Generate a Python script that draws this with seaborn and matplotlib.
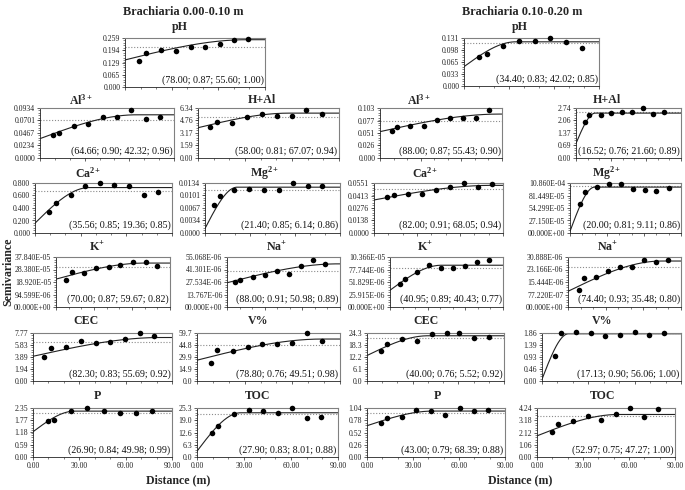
import numpy as np
import pandas as pd
import matplotlib
matplotlib.use("Agg")
import matplotlib.pyplot as plt
from matplotlib.ticker import FixedLocator, MultipleLocator
import seaborn as sns

# ---------------- data ----------------
# Brachiaria 0.00-0.10 m
ph_a_lag = [9.2, 13.3, 22.9, 32.6, 42.2, 51.6, 60.9, 70.1, 79.3]
ph_a_gam = [0.139, 0.182, 0.196, 0.188, 0.213, 0.214, 0.229, 0.248, 0.254]
al_a_lag = [8.5, 13.0, 22.8, 32.5, 42.3, 51.7, 61.1, 71.0, 80.6]
al_a_gam = [0.0426, 0.0470, 0.0597, 0.0629, 0.0769, 0.0769, 0.0902, 0.0737, 0.0775]
hal_a_lag = [7.9, 11.9, 21.7, 31.3, 40.9, 50.4, 59.8, 69.1, 78.9]
hal_a_gam = [3.97, 4.61, 4.49, 5.22, 5.52, 5.35, 5.35, 6.08, 5.52]
ca_a_lag = [9.4, 13.6, 23.5, 33.1, 42.8, 52.2, 61.7, 71.6, 81.0]
ca_a_gam = [0.336, 0.481, 0.615, 0.744, 0.800, 0.772, 0.755, 0.615, 0.655]
mg_a_lag = [5.8, 9.8, 19.6, 29.4, 39.2, 49.0, 58.6, 68.4, 78.2]
mg_a_gam = [0.00759, 0.01003, 0.01153, 0.01171, 0.01153, 0.01143, 0.0134, 0.01256, 0.01256]
k_a_lag = [7.7, 12.4, 22.2, 31.8, 41.6, 50.8, 60.6, 70.7, 79.9]
k_a_gam = [20.64e-5, 26.37e-5, 25.91e-5, 29.35e-5, 30.27e-5, 31.42e-5, 34.17e-5, 34.40e-5, 30.96e-5]
na_a_lag = [6.4, 10.6, 20.6, 29.9, 39.7, 49.2, 59.0, 68.3, 78.1]
na_a_gam = [27.70e-6, 29.37e-6, 33.37e-6, 35.71e-6, 40.05e-6, 36.71e-6, 45.06e-6, 51.5e-6, 47.5e-6]
cec_a_lag = [7.2, 11.5, 21.3, 31.0, 40.8, 49.9, 59.7, 69.0, 78.5]
cec_a_gam = [3.83, 5.35, 5.52, 6.53, 6.19, 6.36, 6.76, 7.75, 7.21]
v_a_lag = [8.8, 12.6, 22.4, 31.8, 41.2, 50.6, 59.8, 69.2, 78.7]
v_a_gam = [22.8, 38.2, 36.9, 42.1, 46.5, 46.5, 47.0, 59.7, 49.2]
p_a_lag = [9.6, 13.8, 24.4, 35.2, 45.9, 56.3, 66.5, 77.3]
p_a_gam = [1.746, 1.779, 2.203, 2.34, 2.219, 2.105, 2.122, 2.187]
toc_a_lag = [9.8, 13.6, 23.6, 33.1, 42.3, 51.5, 60.7, 70.1, 79.1]
toc_a_gam = [12.65, 16.16, 21.96, 24.07, 23.89, 22.84, 25.3, 20.03, 20.56]

# Brachiaria 0.10-0.20 m
ph_b_lag = [10.2, 15.1, 25.7, 36.6, 47.0, 57.6, 68.3, 78.7]
ph_b_gam = [0.0782, 0.0877, 0.1103, 0.1216, 0.1216, 0.1300, 0.1188, 0.1046]
al_b_lag = [8.5, 12.5, 22.4, 32.3, 42.0, 51.7, 61.2, 70.9, 80.6]
al_b_gam = [0.0564, 0.0633, 0.0654, 0.0661, 0.0773, 0.0828, 0.0828, 0.0828, 0.0995]
hal_b_lag = [7.5, 11.4, 21.0, 30.0, 39.0, 48.2, 57.4, 66.4, 75.6]
hal_b_gam = [1.96, 2.33, 2.35, 2.44, 2.52, 2.50, 2.72, 2.43, 2.52]
ca_b_lag = [9.3, 13.7, 23.5, 33.5, 43.5, 53.3, 62.8, 72.6, 82.6]
ca_b_gam = [0.0394, 0.0416, 0.0431, 0.0431, 0.0469, 0.0510, 0.0551, 0.0510, 0.0543]
mg_b_lag = [8.1, 12.1, 22.0, 31.7, 41.7, 51.0, 60.5, 69.9, 80.1]
mg_b_gam = [6.28e-4, 8.87e-4, 9.90e-4, 10.64e-4, 10.64e-4, 9.53e-4, 9.31e-4, 9.16e-4, 9.75e-4]
k_b_lag = [7.9, 12.2, 21.7, 31.2, 41.0, 50.3, 59.5, 69.3, 78.6]
k_b_gam = [4.73e-5, 5.77e-5, 7.33e-5, 8.72e-5, 7.99e-5, 7.99e-5, 8.59e-5, 9.39e-5, 9.70e-5]
na_b_lag = [9.0, 12.5, 22.5, 32.0, 41.5, 51.0, 60.5, 70.0, 79.5]
na_b_gam = [10.38e-6, 17.66e-6, 18.72e-6, 22.29e-6, 24.47e-6, 24.93e-6, 28.90e-6, 27.98e-6, 28.90e-6]
cec_b_lag = [9.2, 13.3, 22.9, 32.7, 42.5, 52.3, 60.6, 70.6, 80.2]
cec_b_gam = [15.4, 18.6, 21.3, 20.0, 23.9, 24.2, 24.4, 21.6, 22.2]
v_b_lag = [8.6, 12.4, 22.1, 31.7, 41.1, 50.3, 60.0, 69.6, 79.2]
v_b_gam = [0.98, 1.86, 1.89, 1.87, 1.75, 1.77, 1.91, 1.77, 1.85]
p_b_lag = [9.0, 12.9, 22.5, 32.1, 41.8, 51.0, 60.4, 69.8, 79.2]
p_b_gam = [0.722, 0.823, 0.845, 1.004, 0.968, 0.896, 1.040, 0.982, 1.004]
toc_b_lag = [10.0, 14.0, 23.5, 33.0, 42.0, 51.5, 60.5, 70.0, 79.0]
toc_b_gam = [2.18, 2.83, 3.09, 3.56, 3.24, 3.68, 4.24, 3.42, 4.18]

# fitted spherical models: range a, nugget, sill, sample variance (dotted)
model_range = {
    "ph_a": 78.00, "al_a": 64.66, "hal_a": 58.00, "ca_a": 35.56, "mg_a": 21.40, "k_a": 70.00,
    "na_a": 88.00, "cec_a": 82.30, "v_a": 78.80, "p_a": 26.90, "toc_a": 27.90,
    "ph_b": 34.40, "al_b": 88.00, "hal_b": 16.52, "ca_b": 82.00, "mg_b": 20.00, "k_b": 40.95,
    "na_b": 74.40, "cec_b": 40.00, "v_b": 17.13, "p_b": 43.00, "toc_b": 52.97,
}
model_nugget = {
    "ph_a": 0.143, "al_a": 0.0362, "hal_a": 3.84, "ca_a": 0.157, "mg_a": 0.0012, "k_a": 21.1e-5,
    "na_a": 26.7e-6, "cec_a": 4.00, "v_a": 25.9, "p_a": 1.21, "toc_a": 3.0,
    "ph_b": 0.0528, "al_b": 0.0543, "hal_b": 0.80, "ca_b": 0.0364, "mg_b": 0.37e-4, "k_b": 3.48e-5,
    "na_b": 9.7e-6, "cec_b": 12.9, "v_b": 0.07, "p_b": 0.664, "toc_b": 1.83,
}
model_sill = {
    "ph_a": 0.250, "al_a": 0.0807, "hal_a": 5.69, "ca_a": 0.727, "mg_a": 0.01228, "k_a": 33.25e-5,
    "na_a": 47.5e-6, "cec_a": 7.04, "v_a": 52.2, "p_a": 2.20, "toc_a": 22.84,
    "ph_b": 0.1206, "al_b": 0.0905, "hal_b": 2.46, "ca_b": 0.0525, "mg_b": 9.97e-4, "k_b": 8.66e-5,
    "na_b": 28.4e-6, "cec_b": 22.9, "v_b": 1.83, "p_b": 0.975, "toc_b": 3.68,
}
sample_var = {
    "ph_a": 0.211, "al_a": 0.0705, "hal_a": 5.18, "ca_a": 0.677, "mg_a": 0.01153, "k_a": 30.5e-5,
    "na_a": 40.0e-6, "cec_a": 6.36, "v_a": 44.3, "p_a": 2.105, "toc_a": 22.1,
    "ph_b": 0.118, "al_b": 0.0752, "hal_b": 2.52, "ca_b": 0.0484, "mg_b": 10.1e-4, "k_b": 8.15e-5,
    "na_b": 25.0e-6, "cec_b": 21.8, "v_b": 1.86, "p_b": 0.939, "toc_b": 3.59,
}
notes = {
    "ph_a": "(78.00; 0.87; 55.60; 1.00)", "al_a": "(64.66; 0.90; 42.32; 0.96)",
    "hal_a": "(58.00; 0.81; 67.07; 0.94)", "ca_a": "(35.56; 0.85; 19.36; 0.85)",
    "mg_a": "(21.40; 0.85; 6.14; 0.86)", "k_a": "(70.00; 0.87; 59.67; 0.82)",
    "na_a": "(88.00; 0.91; 50.98; 0.89)", "cec_a": "(82.30; 0.83; 55.69; 0.92)",
    "v_a": "(78.80; 0.76; 49.51; 0.98)", "p_a": "(26.90; 0.84; 49.98; 0.99)",
    "toc_a": "(27.90; 0.83; 8.01; 0.88)",
    "ph_b": "(34.40; 0.83; 42.02; 0.85)", "al_b": "(88.00; 0.87; 55.43; 0.90)",
    "hal_b": "(16.52; 0.76; 21.60; 0.89)", "ca_b": "(82.00; 0.91; 68.05; 0.94)",
    "mg_b": "(20.00; 0.81; 9.11; 0.86)", "k_b": "(40.95; 0.89; 40.43; 0.77)",
    "na_b": "(74.40; 0.93; 35.48; 0.80)", "cec_b": "(40.00; 0.76; 5.52; 0.92)",
    "v_b": "(17.13; 0.90; 56.06; 1.00)", "p_b": "(43.00; 0.79; 68.39; 0.88)",
    "toc_b": "(52.97; 0.75; 47.27; 1.00)",
}
ytick_labels = {
    "ph_a": ["0.000", "0.065", "0.129", "0.194", "0.259"],
    "al_a": ["0.0000", "0.0234", "0.0467", "0.0701", "0.0934"],
    "hal_a": ["0.00", "1.59", "3.17", "4.76", "6.34"],
    "ca_a": ["0.000", "0.200", "0.400", "0.600", "0.800"],
    "mg_a": ["0.0000", "0.0034", "0.0067", "0.0101", "0.0134"],
    "k_a": ["00.000E+00", "94.599E-06", "18.920E-05", "28.380E-05", "37.840E-05"],
    "na_a": ["00.000E+00", "13.767E-06", "27.534E-06", "41.301E-06", "55.068E-06"],
    "cec_a": ["0.00", "1.94", "3.89", "5.83", "7.77"],
    "v_a": ["0.0", "14.9", "29.9", "44.8", "59.7"],
    "p_a": ["0.00", "0.59", "1.18", "1.77", "2.35"],
    "toc_a": ["0.0", "6.3", "12.6", "19.0", "25.3"],
    "ph_b": ["0.000", "0.033", "0.065", "0.098", "0.131"],
    "al_b": ["0.000", "0.026", "0.051", "0.077", "0.103"],
    "hal_b": ["0.00", "0.69", "1.37", "2.06", "2.74"],
    "ca_b": ["0.0000", "0.0138", "0.0276", "0.0413", "0.0551"],
    "mg_b": ["00.000E+00", "27.150E-05", "54.299E-05", "81.449E-05", "10.860E-04"],
    "k_b": ["00.000E+00", "25.915E-06", "51.829E-06", "77.744E-06", "10.366E-05"],
    "na_b": ["00.000E+00", "77.220E-07", "15.444E-06", "23.166E-06", "30.888E-06"],
    "cec_b": ["0.0", "6.1", "12.2", "18.3", "24.3"],
    "v_b": ["0.00", "0.46", "0.93", "1.39", "1.86"],
    "p_b": ["0.00", "0.26", "0.52", "0.78", "1.04"],
    "toc_b": ["0.00", "1.06", "2.12", "3.18", "4.24"],
}
xtick_values = [0, 30, 60, 90]
xtick_labels = ["0.00", "30.00", "60.00", "90.00"]

series = {
    "ph_a": (ph_a_lag, ph_a_gam), "al_a": (al_a_lag, al_a_gam), "hal_a": (hal_a_lag, hal_a_gam),
    "ca_a": (ca_a_lag, ca_a_gam), "mg_a": (mg_a_lag, mg_a_gam), "k_a": (k_a_lag, k_a_gam),
    "na_a": (na_a_lag, na_a_gam), "cec_a": (cec_a_lag, cec_a_gam), "v_a": (v_a_lag, v_a_gam),
    "p_a": (p_a_lag, p_a_gam), "toc_a": (toc_a_lag, toc_a_gam),
    "ph_b": (ph_b_lag, ph_b_gam), "al_b": (al_b_lag, al_b_gam), "hal_b": (hal_b_lag, hal_b_gam),
    "ca_b": (ca_b_lag, ca_b_gam), "mg_b": (mg_b_lag, mg_b_gam), "k_b": (k_b_lag, k_b_gam),
    "na_b": (na_b_lag, na_b_gam), "cec_b": (cec_b_lag, cec_b_gam), "v_b": (v_b_lag, v_b_gam),
    "p_b": (p_b_lag, p_b_gam), "toc_b": (toc_b_lag, toc_b_gam),
}
panel_titles = {
    "ph": "pH", "al": r"$\mathbf{Al^{3+}}$", "hal": "H+Al", "ca": r"$\mathbf{Ca^{2+}}$",
    "mg": r"$\mathbf{Mg^{2+}}$", "k": r"$\mathbf{K^{+}}$", "na": r"$\mathbf{Na^{+}}$",
    "cec": "CEC", "v": "V%", "p": "P", "toc": "TOC",
}
group_titles = ["Brachiaria 0.00-0.10 m", "Brachiaria 0.10-0.20 m"]

# ---------------- layout (pixels) ----------------
W, H = 685, 490
boxes = {  # x0, x1, y0, y1
    "ph_a": (125, 265, 38, 87), "al_a": (40, 174, 108, 158), "hal_a": (198, 339, 108, 158),
    "ca_a": (35, 172, 183, 233), "mg_a": (205, 340, 183, 233),
    "k_a": (56, 170, 257, 307), "na_a": (227, 340, 257, 307),
    "cec_a": (33, 172, 333, 381), "v_a": (197, 340, 333, 381),
    "p_a": (33, 172, 408, 457), "toc_a": (197, 338, 408, 457),
    "ph_b": (464, 599, 38, 86), "al_b": (380, 502, 108, 158), "hal_b": (576, 681, 108, 158),
    "ca_b": (374, 503, 183, 233), "mg_b": (570, 681, 183, 233),
    "k_b": (390, 503, 257, 307), "na_b": (568, 681, 257, 307),
    "cec_b": (367, 504, 333, 381), "v_b": (542, 681, 333, 381),
    "p_b": (367, 505, 408, 457), "toc_b": (537, 675, 408, 457),
}
title_pos = {
    "ph_a": (180, 27), "al_a": (81, 100), "hal_a": (262, 100), "ca_a": (88, 173), "mg_a": (265, 173),
    "k_a": (97, 247), "na_a": (277, 247), "cec_a": (86, 321), "v_a": (258, 321),
    "p_a": (97, 396), "toc_a": (258, 396),
    "ph_b": (520, 27), "al_b": (419, 100), "hal_b": (607, 100), "ca_b": (425, 173), "mg_b": (607, 173),
    "k_b": (425, 247), "na_b": (608, 247), "cec_b": (426, 321), "v_b": (602, 321),
    "p_b": (437, 396), "toc_b": (603, 396),
}

sns.set_style("ticks")
plt.rcParams["font.family"] = ["Liberation Serif", "DejaVu Serif"]
plt.rcParams["mathtext.fontset"] = "custom"
plt.rcParams["mathtext.rm"] = "Liberation Serif"
plt.rcParams["mathtext.bf"] = "Liberation Serif:bold"
plt.rcParams["mathtext.it"] = "Liberation Serif:italic"

fig = plt.figure(figsize=(W / 100, H / 100), dpi=100)


def spherical(h, c0, sill, a):
    h = np.asarray(h, dtype=float)
    r = np.clip(h / a, 0, 1)
    return c0 + (sill - c0) * (1.5 * r - 0.5 * r ** 3)


for key, (x0, x1, y0, y1) in boxes.items():
    ax = fig.add_axes([x0 / W, 1 - y1 / H, (x1 - x0) / W, (y1 - y0) / H])
    lags, gam = series[key]
    labels = ytick_labels[key]
    ymax = float(labels[-1])
    ticks = [float(s) for s in labels]

    h = np.linspace(0, 90, 361)
    curve = pd.DataFrame({"h": h, "g": spherical(h, model_nugget[key], model_sill[key], model_range[key])})
    ax.axhline(sample_var[key], color="#8a8a8a", lw=0.8, ls=(0, (1, 1.6)), zorder=1)
    sns.lineplot(data=curve, x="h", y="g", ax=ax, color="#222222", lw=0.8, zorder=2)
    pts = pd.DataFrame({"lag": lags, "gamma": gam})
    sns.scatterplot(data=pts, x="lag", y="gamma", ax=ax, color="black", s=16,
                    linewidth=0, zorder=3, clip_on=False)

    ax.set_xlim(0, 90)
    ax.set_ylim(0, ymax)
    ax.set_xlabel("")
    ax.set_ylabel("")
    ax.yaxis.set_major_locator(FixedLocator(ticks))
    ax.set_yticklabels(labels)
    ax.yaxis.set_minor_locator(MultipleLocator(ymax / 20))
    ax.xaxis.set_major_locator(FixedLocator(xtick_values))
    ax.xaxis.set_minor_locator(MultipleLocator(10))
    bottom_row = key.startswith("p_") or key.startswith("toc_")
    if bottom_row:
        ax.set_xticklabels(xtick_labels)
    else:
        ax.set_xticklabels([])
    ax.tick_params(axis="both", which="major", labelsize=5.6, length=2.2, width=0.5,
                   pad=1.2, colors="#222222")
    ax.tick_params(axis="both", which="minor", length=1.4, width=0.4, colors="#222222")
    for side in ["left", "bottom"]:
        ax.spines[side].set_color("#222222")
        ax.spines[side].set_linewidth(0.6)
    for side in ["top", "right"]:
        ax.spines[side].set_visible(True)
        ax.spines[side].set_color("#808080")
        ax.spines[side].set_linewidth(0.8)

    ax.text(0.99, 0.05, notes[key], transform=ax.transAxes, ha="right", va="bottom",
            fontsize=7.2, color="#111111", zorder=4)

    tx, ty = title_pos[key]
    fig.text(tx / W, 1 - ty / H, panel_titles[key.split("_")[0]], ha="center", va="center",
             fontsize=8.6, fontweight="bold")

fig.text(183 / W, 1 - 12 / H, group_titles[0], ha="center", va="center", fontsize=8.8, fontweight="bold")
fig.text(522 / W, 1 - 12 / H, group_titles[1], ha="center", va="center", fontsize=8.8, fontweight="bold")
fig.text(178 / W, 1 - 480 / H, "Distance (m)", ha="center", va="center", fontsize=8.6, fontweight="bold")
fig.text(520 / W, 1 - 480 / H, "Distance (m)", ha="center", va="center", fontsize=8.6, fontweight="bold")
fig.text(8 / W, 1 - 272 / H, "Semivariance", ha="center", va="center", rotation=90,
         fontsize=8.6, fontweight="bold")

fig.savefig("out.png", dpi=100, facecolor="white")
